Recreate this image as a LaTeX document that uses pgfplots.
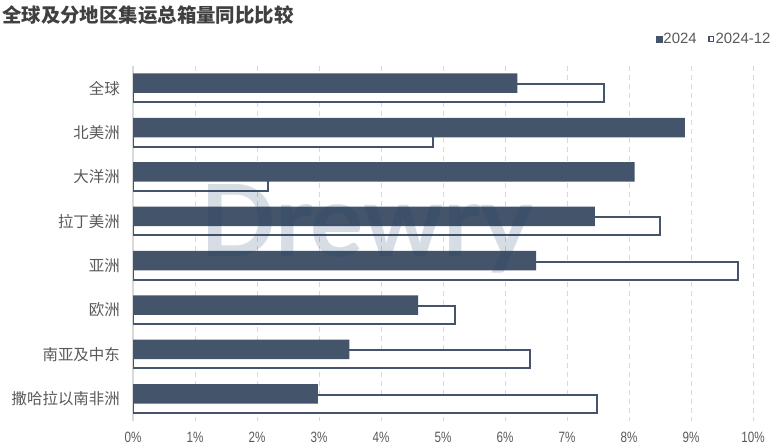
\documentclass[border=0pt]{standalone}
\usepackage{pgfplots}
\pgfplotsset{compat=1.18}
\usepackage{pgfplotstable}
\usepackage{fontspec}
\setmainfont{Liberation Sans}
\newfontfamily\cjk{Noto Sans CJK SC}
\newfontfamily\narrow[FakeStretch=0.78]{Liberation Sans}
\newfontfamily\wmfont{Lato}
\definecolor{barc}{HTML}{44546A}
\definecolor{txt}{HTML}{595959}
\definecolor{ttl}{HTML}{404040}
\definecolor{gridc}{HTML}{D9D9D9}
\definecolor{wmc}{RGB}{27,66,110}
\pgfplotstableread{
idx v2024 v2412
0 6.20 7.60
1 8.90 4.84
2 8.09 2.18
3 7.45 8.50
4 6.50 9.76
5 4.60 5.20
6 3.49 6.41
7 2.98 7.49
}\datatab
\begin{document}
\begin{tikzpicture}
\useasboundingbox (0,0) rectangle (784bp,448bp);
\begin{axis}[
  at={(133bp,27bp)}, anchor=south west,
  scale only axis, width=620bp, height=355bp,
  xmin=0, xmax=10, ymin=-0.5, ymax=7.5,
  y dir=reverse,
  axis line style={draw=none},
  xtick={0,1,...,10},
  xticklabels={0\%,1\%,2\%,3\%,4\%,5\%,6\%,7\%,8\%,9\%,10\%},
  ytick={0,...,7},
  yticklabels={全球,北美洲,大洋洲,拉丁美洲,亚洲,欧洲,南亚及中东,撒哈拉以南非洲},
  major tick length=0pt,
  xticklabel style={font=\narrow\fontsize{15}{15}\selectfont, text=txt, anchor=center, yshift=-16bp, inner sep=0pt},
  yticklabel style={font=\cjk\fontsize{15.5}{16}\selectfont, text=txt, anchor=east, inner sep=0pt, xshift=-13bp},
  xmajorgrids,
  grid style={gridc, line width=1bp, dash pattern=on 5bp off 4bp},
  extra x ticks={0}, extra x tick labels={},
  extra x tick style={grid style={solid, gridc, line width=1.5bp, dash pattern=}},
  legend columns=2,
  legend style={at={(axis description cs:1.0306,1.076)}, anchor=east, draw=none, fill=none,
    inner sep=0pt, outer sep=0pt,
    font=\fontsize{15}{15}\selectfont, text=txt,
    nodes={inner sep=1.5bp},
    /tikz/every even column/.append style={column sep=10bp}},
]
\addlegendimage{legend image code/.code={\fill[barc] (0bp,-2.9bp) rectangle (5.8bp,2.9bp);}}
\addlegendentry{2024}
\addlegendimage{legend image code/.code={\draw[barc, line width=1.3bp] (0.6bp,-2.3bp) rectangle (5.2bp,2.3bp);}}
\addlegendentry{2024-12}
\addplot[forget plot, xbar, bar width=18bp, bar shift=-5bp, draw=barc, line width=2bp, fill=white] table[x=v2412, y=idx] {\datatab};
\addplot[forget plot, xbar, bar width=19.5bp, bar shift=5bp, draw=none, fill=barc] table[x=v2024, y=idx] {\datatab};
\end{axis}
\node[anchor=west, inner sep=0pt, text=ttl, font=\cjk\bfseries\fontsize{19.5}{20}\selectfont] at (2bp,433bp) {全球及分地区集运总箱量同比比较};
\node[anchor=base west, inner sep=0pt, text=wmc, opacity=0.18, font=\wmfont\bfseries\fontsize{100}{100}\selectfont] at (200bp,191bp) {Drewry};
\end{tikzpicture}
\end{document}
